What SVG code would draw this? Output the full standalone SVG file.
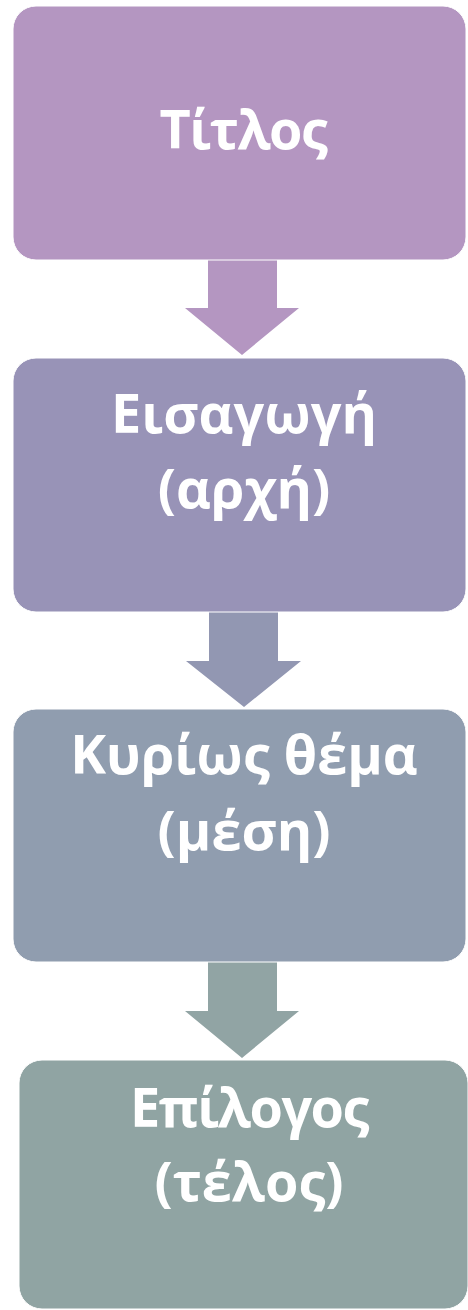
<svg xmlns="http://www.w3.org/2000/svg" width="468" height="1310" viewBox="0 0 468 1310">
  <style>
    .box { stroke: #ffffff; stroke-width: 1; }
    .lbl { font-family: "Open Sans", "Noto Sans", "DejaVu Sans", sans-serif; font-weight: bold; font-size: 54px; fill: #ffffff; text-anchor: middle; }
    .tight { letter-spacing: -1.5px; }
  </style>
  <rect width="468" height="1310" fill="#ffffff"/>
  <g id="connectors">
    <polygon id="arrow1" fill="#B496C1" points="208,259 277,259 277,308 299,308 242,355 185,308 208,308"/>
    <polygon id="arrow2" fill="#9297B2" points="209,611 278,611 278,661 301,661 244,707 186,661 209,661"/>
    <polygon id="arrow3" fill="#91A4A4" points="208,961 277,961 277,1011 299,1011 242,1058 185,1011 208,1011"/>
  </g>
  <g id="node1">
    <rect class="box" x="13" y="6" width="453" height="254" rx="23" ry="23" fill="#B496C1"/>
    <text class="lbl tight" x="243" y="149">Τίτλος</text>
  </g>
  <g id="node2">
    <rect class="box" x="13" y="358" width="453" height="254" rx="23" ry="23" fill="#9893B7"/>
    <text class="lbl" x="244" y="433">Εισαγωγή</text>
    <text class="lbl" x="244" y="508">(αρχή)</text>
  </g>
  <g id="node3">
    <rect class="box" x="13" y="709" width="453" height="253" rx="23" ry="23" fill="#909DAF"/>
    <text class="lbl" x="244" y="774">Κυρίως θέμα</text>
    <text class="lbl" x="244" y="850">(μέση)</text>
  </g>
  <g id="node4">
    <rect class="box" x="19" y="1060" width="449" height="249" rx="23" ry="23" fill="#90A4A3"/>
    <text class="lbl tight" x="249" y="1127">Επίλογος</text>
    <text class="lbl" x="249" y="1201">(τέλος)</text>
  </g>
</svg>
